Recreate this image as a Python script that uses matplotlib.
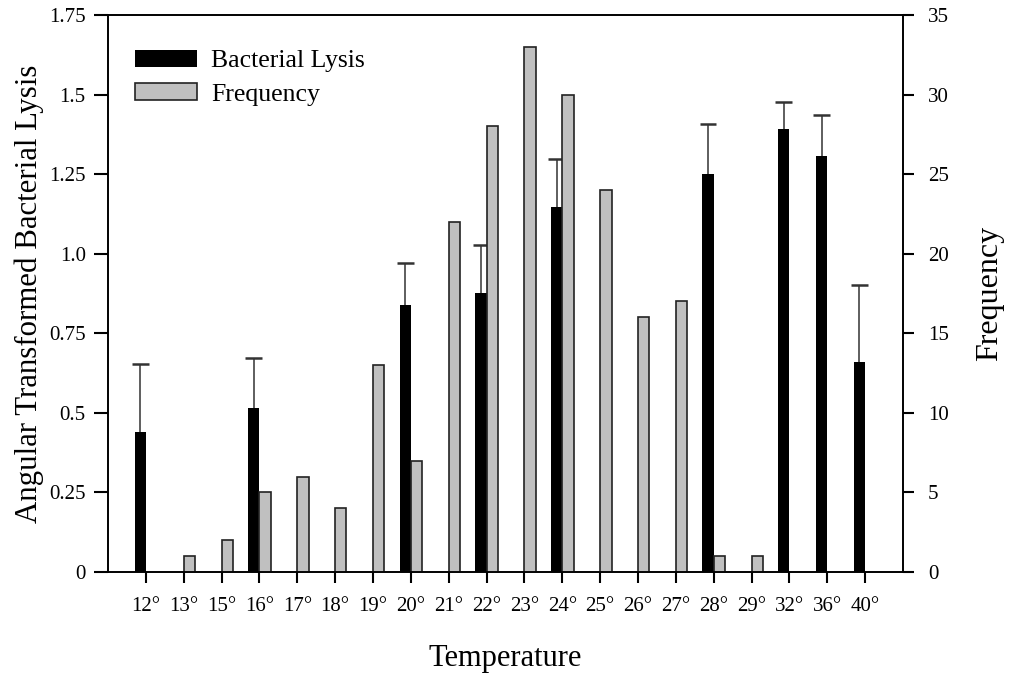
import numpy as np
import matplotlib.pyplot as plt

plt.rcParams['font.family'] = ['Liberation Serif', 'DejaVu Serif']

temps = ["12°", "13°", "15°", "16°", "17°", "18°", "19°", "20°", "21°", "22°",
         "23°", "24°", "25°", "26°", "27°", "28°", "29°", "32°", "36°", "40°"]
# angular transformed lysis (nan = no bar) and upper error
lysis = [0.44, np.nan, np.nan, 0.515, np.nan, np.nan, np.nan, 0.838, np.nan, 0.877,
         np.nan, 1.148, np.nan, np.nan, np.nan, 1.249, np.nan, 1.391, 1.307, 0.66]
lysis_err = [0.214, 0, 0, 0.157, 0, 0, 0, 0.133, 0, 0.15,
             0, 0.149, 0, 0, 0, 0.159, 0, 0.085, 0.13, 0.242]
freq = [0, 1, 2, 5, 6, 4, 13, 7, 22, 28, 33, 30, 24, 16, 17, 1, 1, 0, 0, 0]

x = np.arange(len(temps))
w = 0.3

fig = plt.figure(figsize=(10.11, 6.77), dpi=100)
ax = fig.add_axes([108 / 1011, 105 / 677, (903 - 108) / 1011, (572 - 15) / 677])
ax2 = ax.twinx()

lys = np.array(lysis)
err = np.array(lysis_err)
has = ~np.isnan(lys)

# error bars (upper only)
ax.vlines(x[has] - w / 2, lys[has], lys[has] + err[has], color='#333333', lw=1.1, zorder=1)
ax.hlines(lys[has] + err[has], x[has] - w / 2 - 0.22, x[has] - w / 2 + 0.22,
          color='#333333', lw=1.8, zorder=1)
b1 = ax.bar(x[has], lys[has], width=-w, align='edge', color='black', zorder=2,
            label='Bacterial Lysis')

fq = np.array(freq)
nz = fq > 0
b2 = ax2.bar(x[nz], fq[nz], width=w, align='edge', color='#c0c0c0',
             edgecolor='#222222', linewidth=1.2, label='Frequency')

ax.set_xlim(-1, len(temps))
ax.set_ylim(0, 1.75)
ax2.set_ylim(0, 35)
ax.set_yticks([0, 0.25, 0.5, 0.75, 1.0, 1.25, 1.5, 1.75])
ax.set_yticklabels(["0", "0.25", "0.5", "0.75", "1.0", "1.25", "1.5", "1.75"])
ax2.set_yticks(range(0, 36, 5))
ax.set_xticks(x)
ax.set_xticklabels(temps)

for a in (ax, ax2):
    a.tick_params(labelsize=15, width=1.5, length=8, direction='out')
    for s in a.spines.values():
        s.set_linewidth(1.2)
ax.tick_params(axis='x', pad=10)
ax.tick_params(axis='y', length=10, pad=6)
ax2.tick_params(axis='y', pad=10)

ax.set_xlabel("Temperature", fontsize=22, labelpad=20)
ax.set_ylabel("Angular Transformed Bacterial Lysis", fontsize=22.2, labelpad=4)
ax2.set_ylabel("Frequency", fontsize=23, labelpad=19)

ax.legend([b1, b2], ['Bacterial Lysis', 'Frequency'], loc='upper left', frameon=False,
          fontsize=18.5, handlelength=2.4, handleheight=0.62, handletextpad=0.55,
          borderpad=0, borderaxespad=0, bbox_to_anchor=(27 / 795, 1 - 35 / 557),
          labelspacing=0.43)

fig.savefig("out.png", dpi=100)
